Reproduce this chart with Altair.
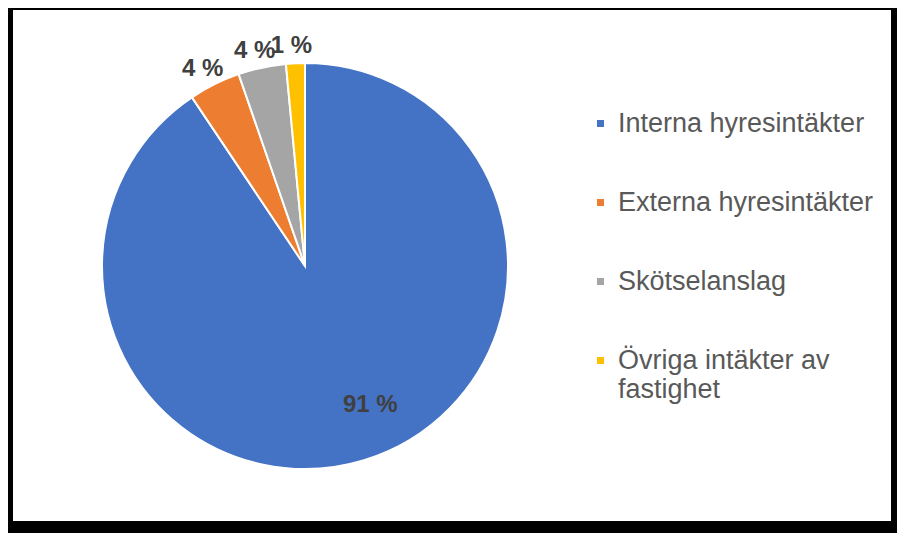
import altair as alt
import pandas as pd

categories = ["Interna hyresintäkter", "Externa hyresintäkter", "Skötselanslag", "Övriga intäkter av fastighet"]
shares = [90.6, 4.1, 3.8, 1.5]
labels = ["91 %", "4 %", "4 %", "1 %"]
order = [1, 2, 3, 4]
colors = ["#4472C4", "#ED7D31", "#A5A5A5", "#FFC000"]

df = pd.DataFrame({"kategori": categories, "andel": shares, "etikett": labels, "ordning": order})

FONT = "Liberation Sans"

base = alt.Chart(df).encode(
    theta=alt.Theta("andel:Q", stack=True),
    order=alt.Order("ordning:Q"),
    x=alt.value(292),
    y=alt.value(256),
)

pie = base.mark_arc(outerRadius=203, stroke="white", strokeWidth=2).encode(
    color=alt.Color(
        "kategori:N",
        scale=alt.Scale(domain=categories, range=colors),
        sort=categories,
        legend=alt.Legend(
            title=None,
            orient="none",
            legendX=574,
            legendY=100,
            symbolType="square",
            symbolSize=49,
            symbolStrokeWidth=0,
            labelFont=FONT,
            labelFontSize=27,
            labelColor="#595959",
            labelLimit=400,
            labelOffset=4,
            rowPadding=51,
            labelExpr="datum.label == 'Övriga intäkter av fastighet' ? ['Övriga intäkter av', 'fastighet'] : datum.label",
        ),
    )
)

text_style = dict(font=FONT, fontSize=24, fontWeight="bold", color="#404040")

text_inner = base.mark_text(radius=152, dx=21, dy=-6, **text_style).encode(
    text=alt.condition("datum.andel > 50", "etikett:N", alt.value("")),
)
text_outer = base.mark_text(radius=223, dx=-3, dy=3, **text_style).encode(
    text=alt.condition("datum.andel > 50", alt.value(""), "etikett:N"),
)

chart = alt.layer(pie, text_inner, text_outer).properties(
    width=878,
    height=511,
    padding={"left": 5, "top": 2, "right": 6, "bottom": 12},
    autosize=alt.AutoSizeParams(type="none"),
    background="black",
).configure_view(fill="white", stroke=None)

chart.save("out.html", embed_options={"renderer": "svg", "actions": False})
